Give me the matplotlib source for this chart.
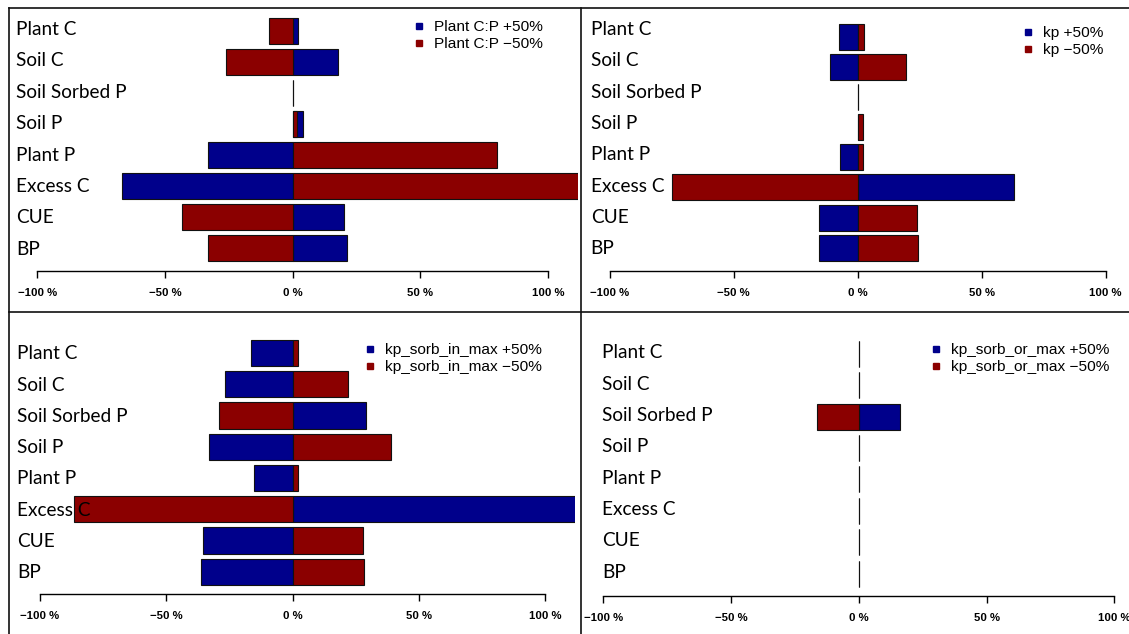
import matplotlib.pyplot as plt
from matplotlib.lines import Line2D

W, H = 1129, 634

categories = ["Plant C", "Soil C", "Soil Sorbed P", "Soil P", "Plant P", "Excess C", "CUE", "BP"]
ticks = [-100, -50, 0, 50, 100]
tick_labels = ["\u2212100 %", "\u221250 %", "0 %", "50 %", "100 %"]

# % change in each output for +50% / -50% of the parameter
cp_plus = [2.3, 17.7, 0, 3.9, -33.0, -66.8, 20.1, 21.2]
cp_minus = [-9.3, -26.2, 0, 1.6, 79.9, 118.0, -43.2, -33.3]

kp_plus = [-7.4, -11.0, 0, 0, -7.0, 63.2, -15.5, -15.8]
kp_minus = [2.4, 19.6, 0, 2.1, 2.3, -74.9, 24.1, 24.2]

sorb_in_plus = [-16.4, -26.9, 29.1, -33.1, -15.4, 118.0, -35.4, -36.3]
sorb_in_minus = [2.3, 22.1, -29.1, 39.1, 2.2, -86.4, 28.0, 28.1]

sorb_or_plus = [0, 0, 16.3, 0, 0, 0, 0, 0]
sorb_or_minus = [0, 0, -16.2, 0, 0, 0, 0, 0]

BLUE = "#00008B"
RED = "#8B0000"
EDGE = "#111111"
XMAX = 111.6

fig = plt.figure(figsize=(W / 100, H / 100), dpi=100)


def fx(px):
    return px / W


def fy(py):
    return 1 - py / H


def panel(name, plus, minus, zero, pct, bar0, step, bar_h, axis_y, top,
          label_x, label0, label_step, leg_x, leg_y):
    right = zero + XMAX * pct
    ax = fig.add_axes([fx(label_x), fy(axis_y), (right - label_x) / W, (axis_y - top) / H])
    ax.set_xlim((label_x - zero) / pct, XMAX)
    ax.set_ylim((axis_y - bar0) / step, (top - bar0) / step)

    rows = range(len(categories))
    h = bar_h / step
    ax.barh(rows, plus, height=h, color=BLUE, edgecolor=EDGE, linewidth=0.8)
    ax.barh(rows, minus, height=h, color=RED, edgecolor=EDGE, linewidth=0.8)

    for i, cat in enumerate(categories):
        y = (label0 + i * label_step - bar0) / step
        ax.text(0, y, cat, transform=ax.get_yaxis_transform(), ha="left",
                va="baseline", fontsize=13.7, family="Lato", zorder=5)

    for s in ["top", "right", "left"]:
        ax.spines[s].set_visible(False)
    ax.spines["bottom"].set_bounds(-100, 100)
    ax.spines["bottom"].set_linewidth(1.0)
    ax.set_yticks([])
    ax.set_xticks(ticks)
    ax.set_xticklabels(tick_labels, fontsize=8.2, fontweight="bold", family="Liberation Sans")
    ax.tick_params(axis="x", direction="out", length=4.7, width=1.0, pad=7.5)

    fs = 11.1
    handles = [Line2D([], [], marker="s", ls="none", color=BLUE, markersize=4),
               Line2D([], [], marker="s", ls="none", color=RED, markersize=4)]
    labels = [name + " +50%", name + " \u221250%"]
    hl = 0.8
    ax.legend(handles, labels, loc="upper left",
              bbox_to_anchor=(fx(leg_x - hl * fs * 1.389 / 2), fy(leg_y - 7)),
              bbox_transform=fig.transFigure, frameon=False, borderpad=0,
              borderaxespad=0, handlelength=hl, handletextpad=0.55,
              labelspacing=0.2, prop={"family": "Liberation Sans", "size": fs})
    return ax


panel("Plant C:P", cp_plus, cp_minus, 292.6, 2.554, 31.3, 30.96, 26, 270.7, 10,
      16, 35, 31.4, 419, 27.3)
panel("kp", kp_plus, kp_minus, 857.7, 2.48, 37, 30.1, 26, 270.7, 10,
      590.7, 35, 31.33, 1028, 33)
panel("kp_sorb_in_max", sorb_in_plus, sorb_in_minus, 292.6, 2.528, 353, 31.24, 26.3, 594.3, 314,
      17, 359.3, 31.29, 370, 350)
panel("kp_sorb_or_max", sorb_or_plus, sorb_or_minus, 858.8, 2.556, 353.7, 31.4, 26, 596, 314,
      602, 358.3, 31.34, 936, 350)

# panel frames
frame = dict(color="#111111", linewidth=1.2)
fig.add_artist(Line2D([fx(8.5), fx(8.5)], [fy(7.5), fy(H)], **frame))
fig.add_artist(Line2D([fx(8.5), fx(W)], [fy(7.5), fy(7.5)], **frame))
fig.add_artist(Line2D([fx(580.5), fx(580.5)], [fy(7.5), fy(H)], **frame))
fig.add_artist(Line2D([fx(8.5), fx(W)], [fy(312), fy(312)], **frame))

fig.savefig("out.png", dpi=100)
